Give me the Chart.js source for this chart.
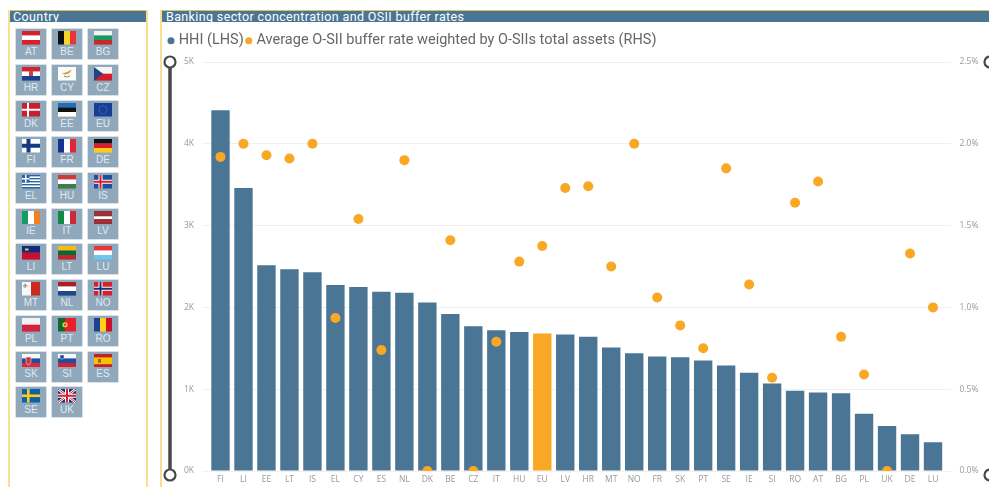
<!DOCTYPE html>
<html><head><meta charset="utf-8">
<script src="https://cdn.jsdelivr.net/npm/chart.js@4/dist/chart.umd.min.js"></script>
<style>
html,body{margin:0;padding:0;background:#fff;overflow:hidden;width:989px;height:487px}
.abs{position:absolute}
.panel{position:absolute;box-sizing:border-box;border-left:2px solid #f7e08e;border-right:2px solid #f7e08e}
.bar{position:absolute;left:0;right:0;top:0;height:11px;background:#4a7595;color:#fff;overflow:hidden;font:12.5px/12px Roboto,sans-serif;letter-spacing:.37px;border-top:1.5px solid #dcc452;box-sizing:content-box}
.tile{position:absolute;width:30px;height:30px;background:#8fa8bc;box-shadow:0 0 0 .5px #b5c5d2;text-align:center;color:#e2e8ee;font:10px/11px "Liberation Sans",sans-serif}
.tile svg{position:absolute;left:6px;top:2px;width:18px;height:13.5px;display:block}
.tile span{position:absolute;left:0;right:0;top:16.5px}
</style></head><body>
<div class="panel" style="left:8px;top:10px;width:140px;height:477px"><div class="bar" style="padding-left:3px;letter-spacing:.4px">Country</div><div id="tiles"></div></div>
<div class="panel" style="left:160px;top:10px;width:840px;height:477px;border-right:0"><div class="bar" style="padding-left:4px">Banking sector concentration and OSII buffer rates</div></div>
<div class="abs" style="left:166px;top:29px;width:823px;height:458px"><canvas id="c" width="823" height="458"></canvas></div>
<svg class="abs" style="left:160px;top:50px" width="829" height="437" viewBox="160 50 829 437">
<line x1="170" y1="62" x2="170" y2="475" stroke="#484848" stroke-width="3.5"/>
<circle cx="170" cy="62" r="5.5" fill="#fff" stroke="#484848" stroke-width="2.2"/>
<circle cx="170" cy="475" r="5.5" fill="#fff" stroke="#484848" stroke-width="2.2"/>
<circle cx="990" cy="62" r="5.5" fill="#fff" stroke="#484848" stroke-width="2.2"/>
<circle cx="990" cy="475" r="5.5" fill="#fff" stroke="#484848" stroke-width="2.2"/>
</svg>
<script>
const categories=['FI','LI','EE','LT','IS','EL','CY','ES','NL','DK','BE','CZ','IT','HU','EU','LV','HR','MT','NO','FR','SK','PT','SE','IE','SI','RO','AT','BG','PL','UK','DE','LU'];
const hhi=[4410,3460,2515,2465,2430,2275,2250,2190,2180,2060,1920,1770,1720,1700,1680,1670,1640,1510,1440,1400,1390,1350,1290,1200,1070,980,960,950,700,550,450,350];
const osii=[1.92,2.0,1.93,1.91,2.0,0.935,1.54,0.74,1.90,0,1.41,0,0.79,1.28,1.375,1.73,1.74,1.25,2.0,1.06,0.89,0.75,1.85,1.14,0.57,1.64,1.77,0.82,0.59,0,1.33,1.0];
const leftTicks=['0K','1K','2K','3K','4K','5K'];
const rightTicks=['0.0%','0.5%','1.0%','1.5%','2.0%','2.5%'];
const seriesNames=['HHI (LHS)','Average O-SII buffer rate weighted by O-SIIs total assets (RHS)'];
const tileRows=[['AT','BE','BG'],['HR','CY','CZ'],['DK','EE','EU'],['FI','FR','DE'],['EL','HU','IS'],['IE','IT','LV'],['LI','LT','LU'],['MT','NL','NO'],['PL','PT','RO'],['SK','SI','ES'],['SE','UK']];
const BLUE='#4a7595',ORANGE='#f9a825';

const h=a=>a.map((c,i)=>`<rect x="0" y="${i*13.5/a.length}" width="18" height="${13.5/a.length+.1}" fill="${c}"/>`).join('');
const v=a=>a.map((c,i)=>`<rect x="${i*18/a.length}" y="0" width="${18/a.length+.1}" height="13.5" fill="${c}"/>`).join('');
const nordic=(bg,w,c)=>`<rect width="18" height="13.5" fill="${bg}"/>`+(w?`<rect x="4.5" width="4" height="13.5" fill="${w}"/><rect y="4.75" width="18" height="4" fill="${w}"/>`:'')+(c?`<rect x="5.5" width="2" height="13.5" fill="${c}"/><rect y="5.75" width="18" height="2" fill="${c}"/>`:'');
let ring='';['0,-4','2,-3.5','3.5,-2','4,0','3.5,2','2,3.5','0,4','-2,3.5','-3.5,2','-4,0','-3.5,-2','-2,-3.5'].forEach(p=>{const[a,b]=p.split(',');ring+=`<circle cx="${9+ +a}" cy="${6.75+ +b}" r=".4" fill="#e8d040"/>`});
let greek='';for(let i=0;i<9;i++)greek+=`<rect y="${i*1.5}" width="18" height="1.5" fill="${i%2?'#fff':'#2a62a8'}"/>`;
const flags={
AT:h(['#d8202c','#fff','#d8202c']),BE:v(['#111','#f6d52a','#e8343a']),BG:h(['#f4f4f4','#169b62','#c8282a']),
HR:h(['#d8202c','#fff','#1d3f94'])+'<rect x="7" y="3.5" width="4" height="5.5" fill="#c8424c"/>',
CY:'<rect width="18" height="13.5" fill="#fbfbf8"/><path d="M4 6.5 L9 5 L14 2.5 L11 6.5 L7 7.5Z" fill="#d89a3c"/><path d="M6 9 Q9 11 12 9" stroke="#7a9a5a" fill="none"/>',
CZ:h(['#f4f4f4','#d0202c'])+'<path d="M0 0 L9 6.75 L0 13.5Z" fill="#1d4480"/>',
DK:'<rect width="18" height="13.5" fill="#c8202f"/><rect x="5" width="2" height="13.5" fill="#fff"/><rect y="5.75" width="18" height="2" fill="#fff"/>',
EE:h(['#1d6fc4','#111','#fff']),EU:'<rect width="18" height="13.5" fill="#153d9a"/>'+ring,
FI:nordic('#fff','#143a84'),FR:v(['#17328c','#fff','#e0283a']),DE:h(['#111','#d8202c','#fbcc20']),
EL:greek+'<rect width="7.5" height="7.5" fill="#2a62a8"/><rect x="3" width="1.5" height="7.5" fill="#fff"/><rect y="3" width="7.5" height="1.5" fill="#fff"/>',
HU:h(['#cd3b3a','#fff','#3f7d45']),IS:nordic('#1d4f9c','#fff','#d8202c'),IE:v(['#169b62','#fff','#f47f20']),IT:v(['#118a45','#fff','#cc2a36']),
LV:h(['#9e2a32','#9e2a32','#fff','#9e2a32','#9e2a32']),
LI:h(['#14287c','#c8102e'])+'<path d="M3 2.5 h3.5 v2 h-3.5z" fill="#e8c840"/>',
LT:h(['#fdb913','#046a38','#c1272d']),LU:h(['#e8343a','#fff','#6dc6ec']),
MT:'<rect width="9" height="13.5" fill="#f8f8f8"/><rect x="9" width="9" height="13.5" fill="#cc2a1e"/><path d="M2.5 1.5 h1.5 v1.5 h1.5 v1.5 h-1.5 v1.5 h-1.5 v-1.5 h-1.5 v-1.5 h1.5z" fill="#a89a92"/>',
NL:h(['#ae1c28','#fff','#21468b']),NO:nordic('#d8202c','#fff','#1a2f70'),PL:h(['#f2f2f2','#d4213d']),
PT:'<rect width="7" height="13.5" fill="#106a2e"/><rect x="7" width="11" height="13.5" fill="#e8202c"/><circle cx="7" cy="6.75" r="2.6" fill="#f0d040"/><circle cx="7" cy="6.75" r="1.2" fill="#d8402c"/>',
RO:v(['#1d3f94','#fcd116','#ce1126']),
SK:h(['#f6f6f6','#1d4f9c','#e0283a'])+'<path d="M4 3 h5 v5 q-.5 2-2.5 3 q-2-1-2.5-3z" fill="#d8303a" stroke="#fff" stroke-width=".5"/>',
SI:h(['#f6f6f6','#1d4f9c','#d8202c'])+'<path d="M2 1 h4 v2.5 q-.3 1.2-2 2 q-1.700-.8-2-2z" fill="#1d4f9c" stroke="#fff" stroke-width=".4"/>',
ES:'<rect width="18" height="13.5" fill="#c8202a"/><rect y="3.4" width="18" height="6.8" fill="#f5c400"/><rect x="4" y="5" width="3" height="3.6" fill="#b05030"/>',
SE:'<rect width="18" height="13.5" fill="#0d62a4"/><rect x="5" width="2.600" height="13.5" fill="#fbcc20"/><rect y="5.450" width="18" height="2.600" fill="#fbcc20"/>',
UK:'<rect width="18" height="13.5" fill="#1a2f78"/><path d="M0 0L18 13.5M18 0L0 13.5" stroke="#fff" stroke-width="2.6"/><path d="M0 0L18 13.5M18 0L0 13.5" stroke="#d8202c" stroke-width="1"/><rect x="7" width="4" height="13.5" fill="#fff"/><rect y="4.750" width="18" height="4" fill="#fff"/><rect x="8" width="2" height="13.5" fill="#d8202c"/><rect y="5.750" width="18" height="2" fill="#d8202c"/>'
};
const rowTops=[29,65,101,137,173,208.5,244,280,316,351.5,387];
const colLefts=[16,52,88];
let html='';
tileRows.forEach((row,r)=>row.forEach((code,c)=>{
  html+=`<div class="tile" style="left:${colLefts[c]-10}px;top:${rowTops[r]-10}px"><svg viewBox="0 0 18 13.5" preserveAspectRatio="none">${flags[code]}</svg><span>${code}</span></div>`;
}));
document.getElementById('tiles').innerHTML=html;

Chart.defaults.animation=false;
const LEFT_W=43,RIGHT_W=44.5,BOTTOM_H=16,LEGEND_H=33;
new Chart(document.getElementById('c'),{
  data:{labels:categories,datasets:[
    {type:'line',label:seriesNames[1],data:osii,yAxisID:'y1',showLine:false,pointRadius:5,pointHoverRadius:5,pointBorderWidth:0,pointBackgroundColor:ORANGE,borderColor:ORANGE,backgroundColor:ORANGE,order:1},
    {type:'bar',label:seriesNames[0],data:hhi,yAxisID:'y',backgroundColor:categories.map(c=>c==='EU'?ORANGE:BLUE),categoryPercentage:1,barPercentage:0.8,order:2}
  ]},
  options:{responsive:false,animation:false,
    layout:{padding:0},
    plugins:{tooltip:{enabled:false},
      legend:{display:true,position:'top',align:'start',reverse:true,
        labels:{usePointStyle:true,pointStyle:'circle',boxWidth:1,boxHeight:5,padding:4.5,color:'#666',font:{family:'Roboto',size:14.5}}}},
    scales:{
      x:{grid:{display:false,drawTicks:false},border:{display:false},ticks:{color:'#999',font:{family:'Open Sans',size:8.5},padding:3,maxRotation:0,autoSkip:false},afterFit(s){s.height=BOTTOM_H}},
      y:{position:'left',min:0,max:5000,grid:{color:'#f0f0f0',tickColor:'#f0f0f0',tickLength:7},border:{display:false},
        ticks:{stepSize:1000,padding:8,color:'#999',font:{family:'Open Sans',size:8.5},callback:(v)=>leftTicks[v/1000]},afterFit(s){s.width=LEFT_W}},
      y1:{position:'right',min:0,max:2.5,grid:{drawOnChartArea:false,color:'#f0f0f0',tickColor:'#f0f0f0',tickLength:7},border:{display:false},
        ticks:{stepSize:0.5,padding:8,color:'#999',font:{family:'Open Sans',size:8.5},callback:(v)=>rightTicks[Math.round(v/0.5)]},afterFit(s){s.width=RIGHT_W}}
    }
  },
  plugins:[{id:'legendBand',beforeLayout(c){const l=c.legend;if(!l._w){l._w=1;const f=l.fit;l.fit=function(){f.call(this);this.height=LEGEND_H}}}}]
});
</script>
</body></html>
